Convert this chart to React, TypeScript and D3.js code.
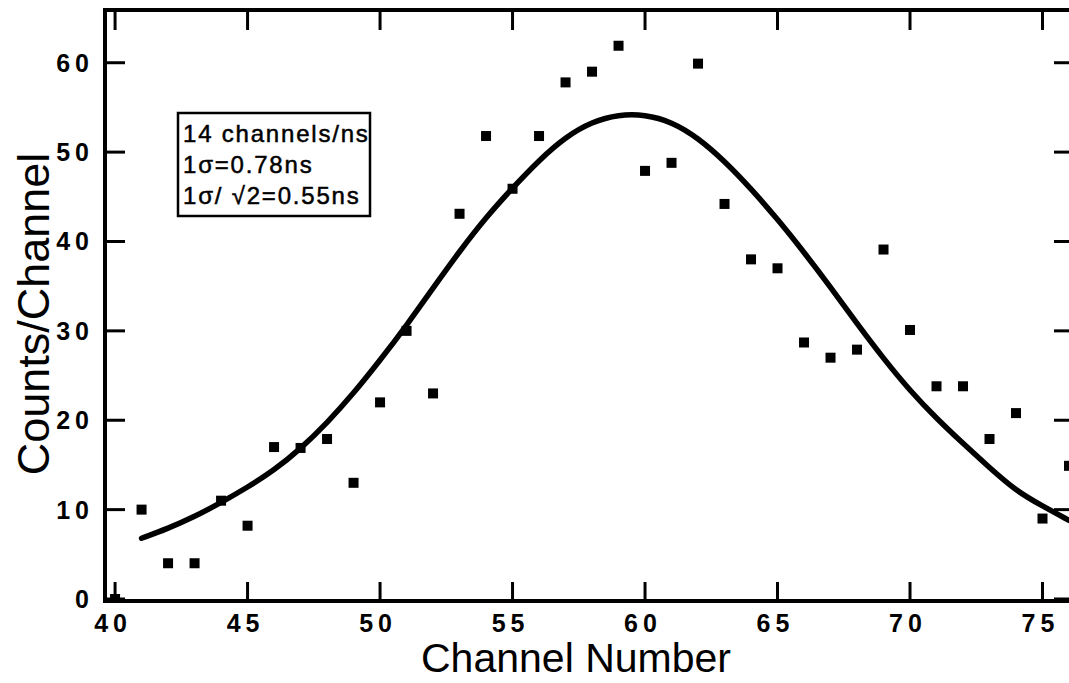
import React from "react";
import * as d3 from "d3";

const channels = [40, 41, 42, 43, 44, 45, 46, 47, 48, 49, 50, 51, 52, 53, 54, 55, 56, 57, 58, 59, 60, 61, 62, 63, 64, 65, 66, 67, 68, 69, 70, 71, 72, 73, 74, 75, 76];
const counts = [0, 10, 4, 4, 11, 8.2, 17, 16.9, 17.9, 13, 22, 30, 23, 43.1, 51.8, 45.9, 51.8, 57.8, 59, 61.9, 47.9, 48.8, 59.9, 44.2, 38, 37, 28.7, 27, 27.9, 39.1, 30.1, 23.8, 23.8, 17.9, 20.8, 9, 14.9];

const fitChannels = [41, 42, 43, 44, 45, 46, 47, 48, 49, 50, 51, 52, 53, 54, 55, 56, 57, 58, 59, 60, 61, 62, 63, 64, 65, 66, 67, 68, 69, 70, 71, 72, 73, 74, 75, 76];
const fitValues = [6.8, 7.9, 9.2, 10.8, 12.5, 14.4, 16.8, 19.7, 23.0, 26.7, 30.6, 34.8, 38.9, 42.7, 46.0, 49.1, 51.7, 53.4, 54.2, 54.2, 53.4, 51.6, 49.0, 45.9, 42.5, 38.8, 34.9, 30.8, 26.9, 23.3, 20.2, 17.4, 14.7, 12.1, 10.4, 8.8];

const xTicks = [40, 45, 50, 55, 60, 65, 70, 75];
const yTicks = [0, 10, 20, 30, 40, 50, 60];
const legendLines = ["14 channels/ns", "1σ=0.78ns", "1σ/ √2=0.55ns"];

const W = 1069;
const H = 683;
const left = 105;
const right = 1069;
const top = 10;
const bottom = 601;

export default function App() {
  const x = d3.scaleLinear().domain([39.62, 76.0]).range([left, right]);
  const y = d3.scaleLinear().domain([0, 65.9]).range([599, top]);
  const line = d3
    .line<number>()
    .x((_, i) => x(fitChannels[i]))
    .y((d) => y(d))
    .curve(d3.curveBasis);
  const tickFont = "Liberation Sans, Arial, sans-serif";
  return (
    <div style={{ position: "absolute", left: 0, top: 0 }}>
      <svg width={W} height={H} style={{ display: "block", background: "#fff" }}>
        <defs>
          <clipPath id="plotclip">
            <rect x={left} y={top} width={right - left + 10} height={bottom - top} />
          </clipPath>
        </defs>
        {/* axes frame */}
        <line x1={left} y1={top} x2={W} y2={top} stroke="#000" strokeWidth={4} />
        <line x1={left} y1={top - 2} x2={left} y2={bottom + 2} stroke="#000" strokeWidth={4} />
        <line x1={left} y1={bottom} x2={W} y2={bottom} stroke="#000" strokeWidth={4} />
        {/* x ticks */}
        {xTicks.map((t) => (
          <g key={"xt" + t}>
            <line x1={x(t)} x2={x(t)} y1={bottom} y2={bottom - 19} stroke="#000" strokeWidth={3} />
            <line x1={x(t)} x2={x(t)} y1={top} y2={top + 20} stroke="#000" strokeWidth={3} />
            <text
              x={x(t) - 2}
              y={632}
              textAnchor="middle"
              fontFamily={tickFont}
              fontWeight="bold"
              fontSize={25}
              letterSpacing={5}
            >
              {t}
            </text>
          </g>
        ))}
        {/* y ticks */}
        {yTicks.map((t) => (
          <g key={"yt" + t}>
            <line x1={left} x2={left + 20} y1={y(t)} y2={y(t)} stroke="#000" strokeWidth={3} />
            <line x1={W - 15} x2={W} y1={y(t)} y2={y(t)} stroke="#000" strokeWidth={3} />
            <text
              x={94}
              y={y(t) + 9}
              textAnchor="end"
              fontFamily={tickFont}
              fontWeight="bold"
              fontSize={25}
              letterSpacing={5}
            >
              {t}
            </text>
          </g>
        ))}
        {/* fit curve */}
        <g clipPath="url(#plotclip)">
          <path d={line(fitValues) || ""} fill="none" stroke="#000" strokeWidth={5.5} strokeLinejoin="round" strokeLinecap="round" />
          {channels.map((c, i) => (
            <rect key={"p" + c} x={x(c) - 5} y={y(counts[i]) - 5} width={10} height={10} fill="#000" />
          ))}
        </g>
        {/* legend */}
        <rect x={178} y={113} width={192} height={103} fill="#fff" stroke="#000" strokeWidth={2.5} />
        {legendLines.map((s, i) => (
          <text
            key={"lg" + i}
            x={183}
            y={142 + i * 31}
            fontFamily={tickFont}
            fontSize={24}
            letterSpacing={1.8}
            stroke="#000"
            strokeWidth={0.5}
          >
            {s}
          </text>
        ))}
        {/* axis titles */}
        <text x={576} y={672} textAnchor="middle" fontFamily={tickFont} fontSize={41}>
          Channel Number
        </text>
        <text
          transform="translate(49,314) rotate(-90)"
          textAnchor="middle"
          fontFamily={tickFont}
          fontSize={45}
        >
          Counts/Channel
        </text>
      </svg>
    </div>
  );
}
